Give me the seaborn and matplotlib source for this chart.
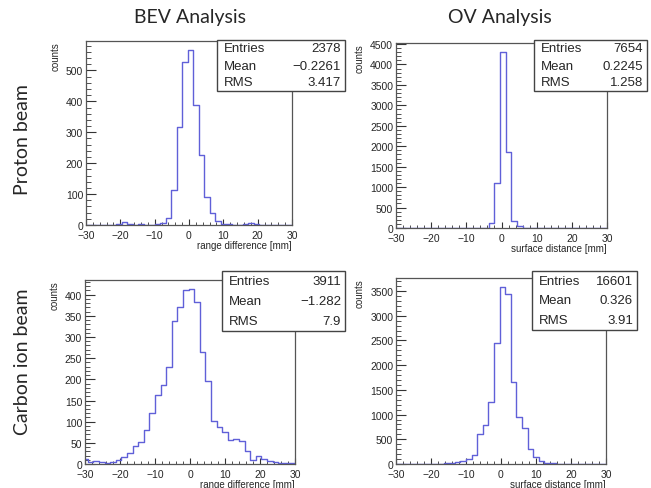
import numpy as np
import pandas as pd
import matplotlib
matplotlib.use("Agg")
import matplotlib.pyplot as plt
from matplotlib.patches import Rectangle
from matplotlib.ticker import MultipleLocator
import seaborn as sns

# Bin edges (1.6 mm bins, last edge at +30)
bin_edges = np.round(np.arange(-30.8, 30.01, 1.6), 1)
bin_centers = (bin_edges[:-1] + bin_edges[1:]) / 2

# Counts per bin
bev_proton = [0, 1, 0, 1, 0, 1, 2, 9, 3, 1, 2, 1, 1, 3, 8, 23, 114, 317, 526, 567,
              388, 225, 89, 40, 13, 3, 2, 1, 1, 2, 6, 2, 1, 0, 1, 0, 0, 0]
ov_proton = [0, 0, 0, 0, 0, 0, 0, 0, 0, 0, 0, 0, 1, 1, 2, 3, 10, 120, 1100, 4310,
             1870, 180, 40, 10, 3, 1, 1, 0, 0, 0, 0, 0, 0, 0, 0, 0, 0, 0]
bev_carbon = [12, 5, 8, 4, 3, 5, 10, 16, 26, 43, 51, 80, 120, 162, 186, 230, 339, 371, 410, 414,
              383, 265, 196, 102, 88, 75, 56, 59, 55, 30, 10, 18, 12, 7, 5, 3, 2, 2]
ov_carbon = [0, 0, 1, 1, 2, 2, 3, 5, 10, 15, 30, 50, 70, 100, 190, 599, 796, 1245, 2450, 3585,
             3435, 1667, 952, 728, 306, 136, 68, 30, 15, 8, 4, 2, 1, 1, 0, 0, 0, 0]

# Stats box contents
stats_bev_proton = ["2378", "\u22120.2261", "3.417"]
stats_ov_proton = ["7654", "0.2245", "1.258"]
stats_bev_carbon = ["3911", "\u22121.282", "7.9"]
stats_ov_carbon = ["16601", "0.326", "3.91"]

col_titles = ["BEV Analysis", "OV Analysis"]
row_titles = ["Proton beam", "Carbon ion beam"]

sns.set_style("white")
plt.rcParams["font.family"] = ["Liberation Sans", "DejaVu Sans"]

W, H = 651, 489
fig = plt.figure(figsize=(W / 100, H / 100), dpi=100)


def px_rect(x0, y0, x1, y1):
    return [x0 / W, 1 - y1 / H, (x1 - x0) / W, (y1 - y0) / H]


line_color = "#6060d8"
frame_color = "#555555"

panels = [
    (px_rect(86, 42, 292, 226), bev_proton, 100, 20, "range difference [mm]",
     stats_bev_proton, (217, 41, 345, 92)),
    (px_rect(396, 44, 607, 229), ov_proton, 500, 100, "surface distance [mm]",
     stats_ov_proton, (534, 41, 647, 92)),
    (px_rect(85, 281, 295, 465), bev_carbon, 50, 10, "range difference [mm]",
     stats_bev_carbon, (222, 272, 345, 332)),
    (px_rect(396, 279, 606, 465), ov_carbon, 500, 100, "surface distance [mm]",
     stats_ov_carbon, (532, 272, 637, 331)),
]

for rect, counts, ymaj, ymin, xlabel, stats, box in panels:
    ax = fig.add_axes(rect)
    df = pd.DataFrame({"x": bin_centers, "w": counts})
    sns.histplot(data=df, x="x", weights="w", bins=list(bin_edges), element="step",
                 fill=False, color=line_color, linewidth=1.0, ax=ax)
    ax.set_xlim(-30, 30)
    ax.set_ylim(0, max(counts) * 1.05)
    ax.xaxis.set_major_locator(MultipleLocator(10))
    ax.xaxis.set_minor_locator(MultipleLocator(2))
    ax.yaxis.set_major_locator(MultipleLocator(ymaj))
    ax.yaxis.set_minor_locator(MultipleLocator(ymin))
    ax.tick_params(axis="y", which="major", direction="in", length=7, width=0.8,
                   labelsize=7.5, pad=2, color="#333333")
    ax.tick_params(axis="y", which="minor", direction="in", length=3.5, width=0.6,
                   color="#333333")
    ax.tick_params(axis="x", which="major", direction="in", length=4.5, width=0.8,
                   labelsize=7.5, pad=3.5, color="#333333")
    ax.tick_params(axis="x", which="minor", direction="in", length=2.2, width=0.6,
                   color="#333333")
    ax.tick_params(left=True, bottom=True, which="both")
    for s in ax.spines.values():
        s.set_color(frame_color)
        s.set_linewidth(0.9)
    ax.set_xlabel(xlabel, fontsize=7, ha="right", x=1.0, labelpad=0)
    ax.set_ylabel("counts", fontsize=7, ha="right", y=1.0, labelpad=4)

    # stats box
    x0, y0, x1, y1 = box
    fig.add_artist(Rectangle((x0 / W, 1 - y1 / H), (x1 - x0) / W, (y1 - y0) / H,
                             transform=fig.transFigure, facecolor="white",
                             edgecolor="#444444", linewidth=1.0, zorder=5))
    row_h = (y1 - y0) / 3
    for k, (name, val) in enumerate(zip(["Entries", "Mean", "RMS"], stats)):
        yc = y0 + row_h * (k + 0.5)
        fig.text((x0 + 7) / W, 1 - yc / H, name, fontsize=9.5, ha="left",
                 va="center", zorder=6)
        fig.text((x1 - 4) / W, 1 - yc / H, val, fontsize=9.5, ha="right",
                 va="center", zorder=6)

title_font = ["Lato", "DejaVu Sans"]
fig.text(190 / W, 1 - 17 / H, col_titles[0], fontsize=14, ha="center", va="center",
         family=title_font)
fig.text(500 / W, 1 - 17 / H, col_titles[1], fontsize=14, ha="center", va="center",
         family=title_font)
fig.text(23 / W, 1 - 140 / H, row_titles[0], fontsize=14, ha="center", va="center",
         rotation=90, family=title_font)
fig.text(23 / W, 1 - 362 / H, row_titles[1], fontsize=14, ha="center", va="center",
         rotation=90, family=title_font)

fig.savefig("out.png", dpi=100)
